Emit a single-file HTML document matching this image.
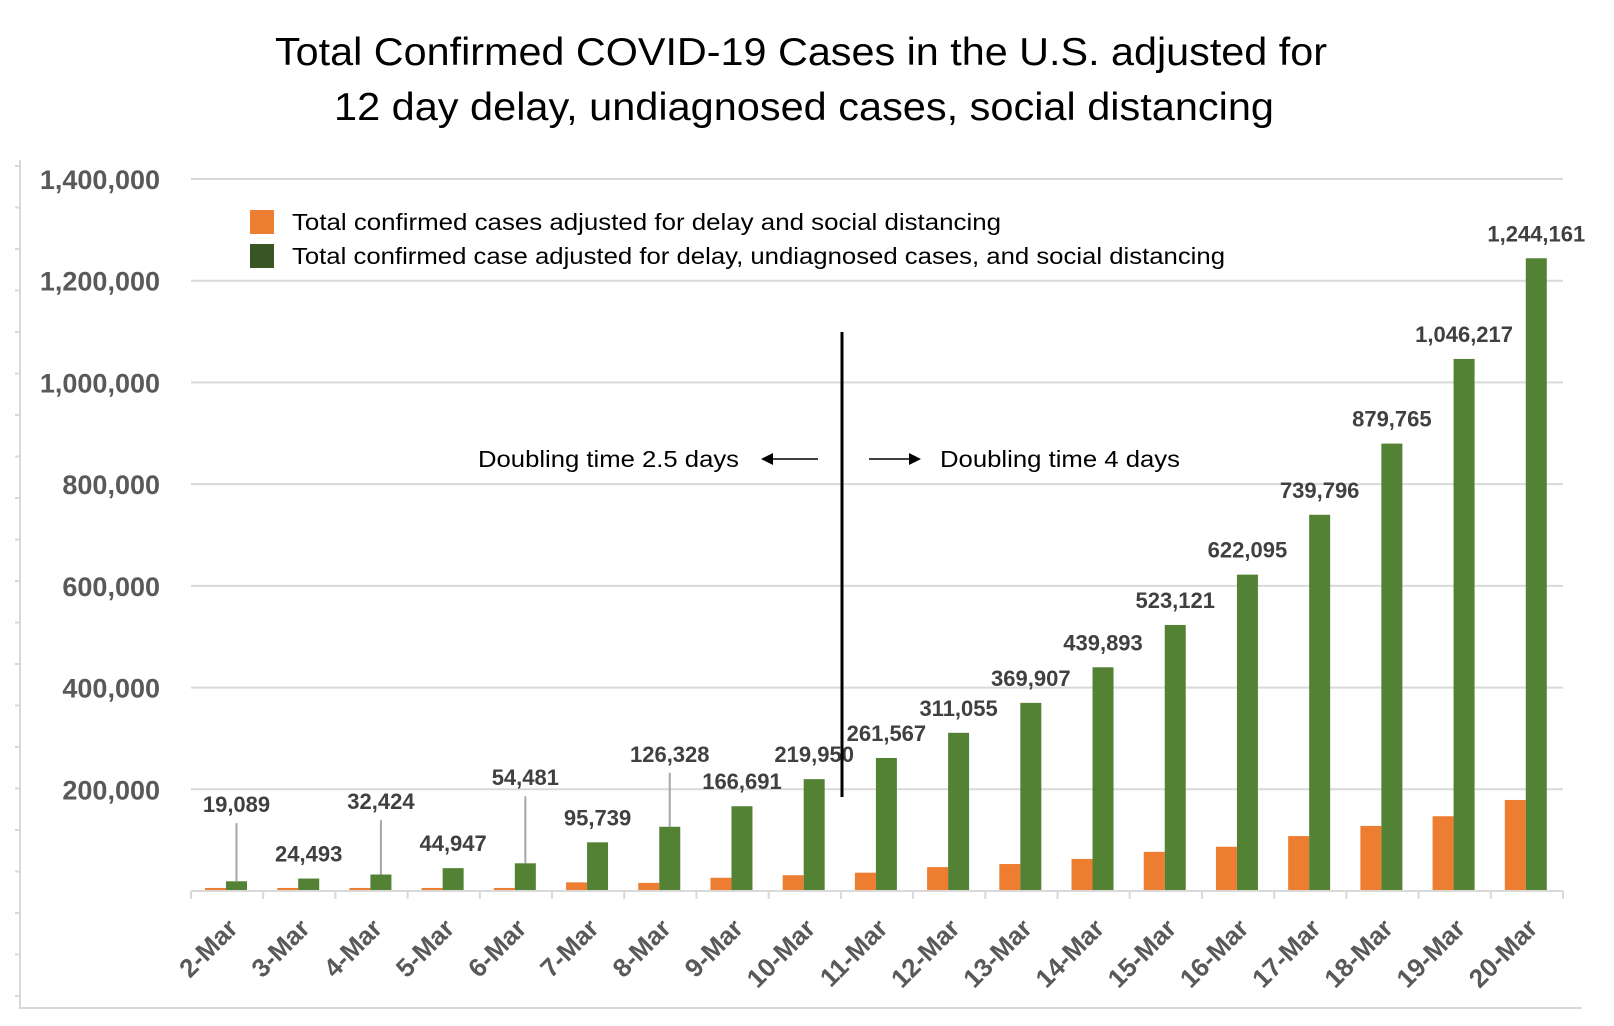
<!DOCTYPE html>
<html><head><meta charset="utf-8"><style>
html,body{margin:0;padding:0;background:#fff;}
svg{display:block;font-family:"Liberation Sans",sans-serif;}
</style></head><body>
<svg id="chart" width="1614" height="1026" viewBox="0 0 1614 1026" xmlns="http://www.w3.org/2000/svg">
<rect x="0" y="0" width="1614" height="1026" fill="#fff"/>
<g font-size="39" fill="#000">
<text x="801" y="65" text-anchor="middle" textLength="1052" lengthAdjust="spacingAndGlyphs">Total Confirmed COVID-19 Cases in the U.S. adjusted for</text>
<text x="804" y="120" text-anchor="middle" textLength="940" lengthAdjust="spacingAndGlyphs">12 day delay, undiagnosed cases, social distancing</text>
</g>
<path d="M20,160 V1008 H1582" fill="none" stroke="#d9d9d9" stroke-width="2"/>
<g id="frameTicks"></g>
<g id="grid"></g>
<g id="bars"></g>
<g id="labels"></g>
<g id="xaxis"></g>
<g>
<rect x="250" y="210" width="24" height="24" fill="#ED7D31"/>
<text x="292" y="230" font-size="23" fill="#000" textLength="709" lengthAdjust="spacingAndGlyphs">Total confirmed cases adjusted for delay and social distancing</text>
<rect x="250" y="244" width="24" height="24" fill="#375623"/>
<text x="292" y="264" font-size="23" fill="#000" textLength="933" lengthAdjust="spacingAndGlyphs">Total confirmed case adjusted for delay, undiagnosed cases, and social distancing</text>
</g>
<g>
<line x1="842" y1="332" x2="842" y2="797" stroke="#000" stroke-width="3"/>
<text x="478" y="467" font-size="23" fill="#000" textLength="261" lengthAdjust="spacingAndGlyphs">Doubling time 2.5 days</text>
<line x1="770" y1="459" x2="818" y2="459" stroke="#000" stroke-width="1.5"/>
<polygon points="761,459 773,453 773,465" fill="#000"/>
<line x1="869" y1="459" x2="912" y2="459" stroke="#000" stroke-width="1.5"/>
<polygon points="921,459 909,453 909,465" fill="#000"/>
<text x="940" y="467" font-size="23" fill="#000" textLength="240" lengthAdjust="spacingAndGlyphs">Doubling time 4 days</text>
</g>
</svg>
<script>
const categories = ["2-Mar","3-Mar","4-Mar","5-Mar","6-Mar","7-Mar","8-Mar","9-Mar","10-Mar","11-Mar","12-Mar","13-Mar","14-Mar","15-Mar","16-Mar","17-Mar","18-Mar","19-Mar","20-Mar"];
const orangeValues = [6000,6000,6000,6000,6000,17000,16000,26000,31000,36000,47000,53000,63000,77000,87000,108000,128000,147000,179000];
const greenValues = [19089,24493,32424,44947,54481,95739,126328,166691,219950,261567,311055,369907,439893,523121,622095,739796,879765,1046217,1244161];
const greenLabels = ["19,089","24,493","32,424","44,947","54,481","95,739","126,328","166,691","219,950","261,567","311,055","369,907","439,893","523,121","622,095","739,796","879,765","1,046,217","1,244,161"];
const yTicks = [200000,400000,600000,800000,1000000,1200000,1400000];
const yTickLabels = ["200,000","400,000","600,000","800,000","1,000,000","1,200,000","1,400,000"];
const leaderLabelValues = [155000,null,161000,null,208000,null,254000,null,null,null,null,null,null,null,null,null,null,null,null];

const NS="http://www.w3.org/2000/svg";
const X0=191, X1=1563, Y0=891, YMAX=1400000, YTOP=179;
const band=(X1-X0)/categories.length;
function y(v){return Y0-(v/YMAX)*(Y0-YTOP);}
function x(i){return X0+i*band;}
function el(tag,attrs,parent,text){const e=document.createElementNS(NS,tag);for(const k in attrs)e.setAttribute(k,attrs[k]);if(text!==undefined)e.textContent=text;parent.appendChild(e);return e;}

const ft=document.getElementById('frameTicks');
for(let ty=166;ty<1005;ty+=41.5){el('line',{x1:15,x2:20,y1:ty,y2:ty,stroke:'#d9d9d9','stroke-width':2},ft);}

const grid=document.getElementById('grid');
yTicks.forEach((v,i)=>{
  const g=el('line',{x1:X0,x2:X1,y1:y(v),y2:y(v),stroke:'#d9d9d9','stroke-width':2},grid);
  
  
  const t=el('text',{x:160,y:y(v)+10,'text-anchor':'end','font-size':27,'font-weight':'bold',fill:'#595959'},grid,yTickLabels[i]);
  
  
});

const bars=document.getElementById('bars');
categories.forEach((c,i)=>{
  const ob=el('rect',{x:x(i)+14,y:y(orangeValues[i]),width:21,height:Y0-y(orangeValues[i]),fill:'#ED7D31'},bars);
  
  
  const gb=el('rect',{x:x(i)+35,y:y(greenValues[i]),width:21,height:Y0-y(greenValues[i]),fill:'#548235'},bars);
  
  
});

const labels=document.getElementById('labels');
categories.forEach((c,i)=>{
  const cx=x(i)+45.5;
  let ly=y(greenValues[i])-17;
  const lv=leaderLabelValues[i];
  if(lv!==null && lv!==undefined){
    ly=y(lv);
    const ln=el('line',{x1:cx,x2:cx,y1:ly+11,y2:y(greenValues[i]),stroke:'#a6a6a6','stroke-width':2},labels);
    
    
  }
  const t=el('text',{x:cx,y:ly,'text-anchor':'middle','font-size':22,'font-weight':'bold',fill:'#404040'},labels,greenLabels[i]);
  
  
});

const xa=document.getElementById('xaxis');
const ax=el('line',{x1:X0,x2:X1,y1:Y0,y2:Y0,stroke:'#d9d9d9','stroke-width':2},xa);


for(let i=0;i<=categories.length;i++){el('line',{x1:x(i),x2:x(i),y1:Y0,y2:Y0+8,stroke:'#d9d9d9','stroke-width':2},xa);}
categories.forEach((c,i)=>{
  const cx=x(i)+band/2+12, cy=930;
  const t=el('text',{x:cx,y:cy,'text-anchor':'end','font-size':26,'font-weight':'bold',fill:'#595959',transform:'rotate(-45 '+cx+' '+cy+')'},xa,c);
  
  
});
</script>
</body></html>
